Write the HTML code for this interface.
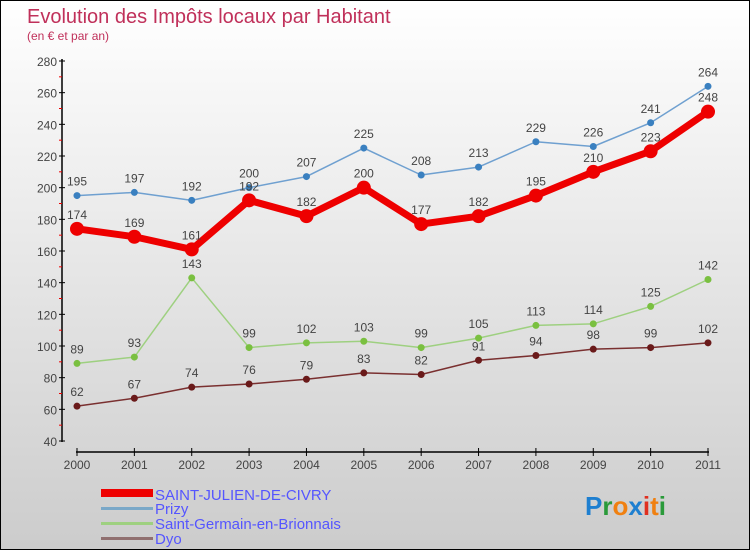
<!DOCTYPE html>
<html><head><meta charset="utf-8"><style>
body{margin:0}
#c{width:750px;height:550px;position:relative;box-sizing:border-box;border:1px solid #000;background:linear-gradient(#fff,#ccc);font-family:"Liberation Sans",sans-serif;overflow:hidden}
</style></head><body>
<div id="c">
<svg id="s" width="748" height="548" style="position:absolute;left:0;top:0">
<text x="26" y="22" font-size="20" fill="#c0305a">Evolution des Impôts locaux par Habitant</text>
<text x="26" y="39" font-size="12" fill="#c0305a">(en € et par an)</text>
<g id="axes"></g><g id="series"></g>
<g>
<rect x="100" y="488" width="52" height="8" fill="#e00"/>
<text x="154" y="499" font-size="15" fill="#55f">SAINT-JULIEN-DE-CIVRY</text>
<rect x="100" y="506" width="52" height="3" fill="#7aa8c8"/>
<text x="154" y="513" font-size="15" fill="#55f">Prizy</text>
<rect x="100" y="521" width="52" height="3" fill="#9ed080"/>
<text x="154" y="528" font-size="15" fill="#55f">Saint-Germain-en-Brionnais</text>
<rect x="100" y="536" width="52" height="3" fill="#907070"/>
<text x="154" y="543" font-size="15" fill="#55f">Dyo</text>
</g>
<g font-size="26" font-weight="bold">
<text x="584" y="514"><tspan fill="#1e7fd0">P</tspan><tspan fill="#2a9a3a">r</tspan><tspan fill="#f08010">o</tspan><tspan fill="#1e7fd0">x</tspan><tspan fill="#e03020">i</tspan><tspan fill="#f08010">t</tspan><tspan fill="#2a9a3a">i</tspan></text>
</g>
</svg></div>
<script>
const years=[2000,2001,2002,2003,2004,2005,2006,2007,2008,2009,2010,2011];
const yTicks=[40,60,80,100,120,140,160,180,200,220,240,260,280];
const stJulien=[174,169,161,192,182,200,177,182,195,210,223,248];
const prizy=[195,197,192,200,207,225,208,213,229,226,241,264];
const stGermain=[89,93,143,99,102,103,99,105,113,114,125,142];
const dyo=[62,67,74,76,79,83,82,91,94,98,99,102];
const NS="http://www.w3.org/2000/svg";
const X=i=>76+i*(707-76)/11;
const Y=v=>440-(v-40)*(380/240);
function mk(t,a,p){const e=document.createElementNS(NS,t);for(const k in a)e.setAttribute(k,a[k]);p.appendChild(e);return e;}
const ax=document.getElementById('axes');
const yl=mk('line',{x1:61,y1:58,x2:61,y2:441,stroke:'#000','stroke-width':1.5},ax);


yTicks.forEach((v,i)=>{
 mk('line',{x1:58,y1:Y(v),x2:64,y2:Y(v),stroke:'#000'},ax);
 if(i<yTicks.length-1)mk('line',{x1:58,y1:Y(v+10),x2:61,y2:Y(v+10),stroke:'#e00'},ax);
 const t=mk('text',{x:56,y:Y(v)+5,'text-anchor':'end','font-size':12,fill:'#444'},ax);
 
 
 t.textContent=v;
});
const xl=mk('line',{x1:75,y1:451,x2:708,y2:451,stroke:'#000','stroke-width':1.5},ax);


years.forEach((y,i)=>{
 mk('line',{x1:X(i),y1:447,x2:X(i),y2:455,stroke:'#000'},ax);
 const t=mk('text',{x:X(i),y:468,'text-anchor':'middle','font-size':12,fill:'#444'},ax);
 
 
 t.textContent=y;
});
const sg=document.getElementById('series');
function series(d,name,col,w,r,dot){
 const g=mk('g',{},sg);
 
 
 mk('polyline',{points:d.map((v,i)=>X(i)+','+Y(v)).join(' '),fill:'none',stroke:col,'stroke-width':w,'stroke-linejoin':'round'},g);
 d.forEach((v,i)=>{
  const c=mk('circle',{cx:X(i),cy:Y(v),r:r,fill:dot},g);
  
  
  const t=mk('text',{x:X(i),y:Y(v)-10,'text-anchor':'middle','font-size':12,fill:'#444'},g);
  
  
  t.textContent=v;
 });
}
series(dyo,'dyo','#7a3030',1.5,3.5,'#6a1a1a');
series(stGermain,'saint-germain','#9ed080',1.5,3.5,'#7ac040');
series(prizy,'prizy','#6fa0d0',1.5,3.5,'#3a80c0');
series(stJulien,'saint-julien','#e00',7,7,'#e00');
</script>
</body></html>
